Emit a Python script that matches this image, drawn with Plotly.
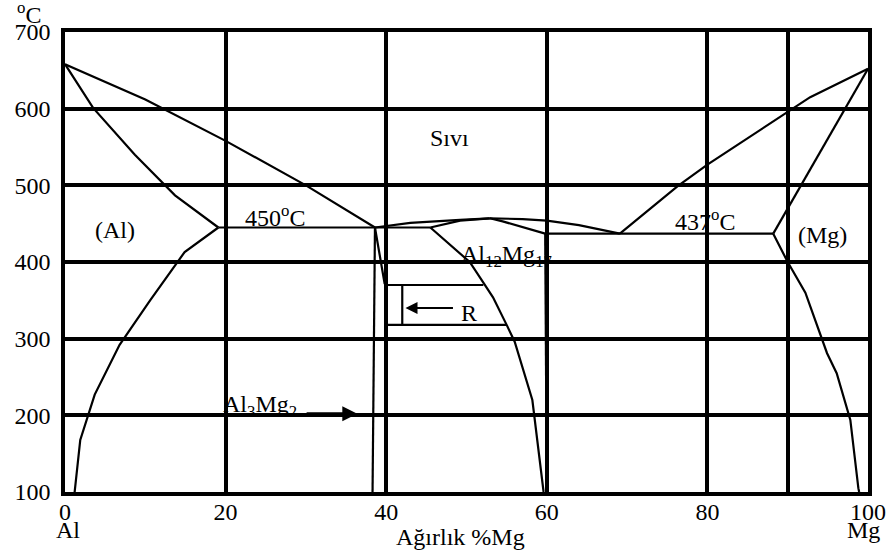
import plotly.graph_objects as go

# ---- data (wt% Mg, temperature °C) ----
liq_al_x = [0, 10, 20, 30, 38.6]
liq_al_y = [658, 612, 558, 500, 445]
sol_al_x = [0, 3.5, 8.7, 13.7, 19.1]
sol_al_y = [658, 601, 540, 487, 445]
solv_al_x = [19.1, 14.9, 10.6, 6.8, 3.7, 1.9, 1.2]
solv_al_y = [445, 413, 350, 292, 227, 168, 100]
eut1_x = [19.1, 45.5]
eut1_y = [445, 445]
al3mg2_left_x = [38.6, 38.3]
al3mg2_left_y = [445, 100]
al3mg2_right_x = [38.6, 39.8, 40, 40]
al3mg2_right_y = [445, 372, 370, 100]
liq_mid_x = [38.6, 39.9, 43, 49.2, 52.9]
liq_mid_y = [445, 447, 451, 455, 457]
sol_mid_x = [45.5, 49.2, 52.9]
sol_mid_y = [445, 454, 457]
liq_right_mid_x = [52.9, 57, 60, 64, 69.1]
liq_right_mid_y = [457, 456, 454, 448, 437]
sol_right_mid_x = [52.9, 54.5, 59.8]
sol_right_mid_y = [457, 453, 437]
eut2_x = [59.8, 88.2]
eut2_y = [437, 437]
al12_left_x = [45.5, 50.4, 52.1, 53.3, 55.0, 56.0, 58.2, 59.5, 59.6]
al12_left_y = [445, 400, 373, 354, 318, 296, 220, 110, 100]
al12_right_x = [59.8, 60]
al12_right_y = [437, 100]
r_top_x = [40, 52.1]
r_top_y = [370, 370]
r_bot_x = [40, 55.0]
r_bot_y = [318, 318]
r_vert_x = [42, 42]
r_vert_y = [370, 318]
liq_mg_x = [69.1, 76.3, 80, 92.8, 100]
liq_mg_y = [437, 499, 527, 615, 652]
sol_mg_x = [88.2, 100]
sol_mg_y = [437, 652]
solv_mg_x = [88.2, 90, 92.2, 94.9, 96.1, 97.8, 98.8, 98.9]
solv_mg_y = [437, 400, 360, 281, 255, 194, 105, 100]

x_ticks = [0, 20, 40, 60, 80, 100]
x_ticktext = ["0", "20", "40", "60", "80", "100"]
y_ticks = [100, 200, 300, 400, 500, 600, 700]

segments = [
    (liq_al_x, liq_al_y), (sol_al_x, sol_al_y), (solv_al_x, solv_al_y),
    (eut1_x, eut1_y), (al3mg2_left_x, al3mg2_left_y), (al3mg2_right_x, al3mg2_right_y),
    (liq_mid_x, liq_mid_y), (sol_mid_x, sol_mid_y),
    (liq_right_mid_x, liq_right_mid_y), (sol_right_mid_x, sol_right_mid_y),
    (eut2_x, eut2_y), (al12_left_x, al12_left_y), (al12_right_x, al12_right_y),
    (r_top_x, r_top_y), (r_bot_x, r_bot_y), (r_vert_x, r_vert_y),
    (liq_mg_x, liq_mg_y), (sol_mg_x, sol_mg_y), (solv_mg_x, solv_mg_y),
]

FONT = "Liberation Serif, Times New Roman, Times, serif"
fig = go.Figure()
for xs, ys in segments:
    fig.add_trace(go.Scatter(x=xs, y=ys, mode="lines",
                             line=dict(color="black", width=2.2),
                             showlegend=False, hoverinfo="skip"))

txt = dict(font=dict(family=FONT, size=24, color="black"), showarrow=False,
           xanchor="center", yanchor="middle")
fig.add_annotation(x=47.9, y=562, text="Sıvı", **txt)
fig.add_annotation(x=6.2, y=442, text="(Al)", **txt)
fig.add_annotation(x=26.2, y=460, text="450<sup>o</sup>C", **txt)
fig.add_annotation(x=79.7, y=455, text="437<sup>o</sup>C", **txt)
fig.add_annotation(x=94.3, y=435, text="(Mg)", **txt)
fig.add_annotation(x=55.0, y=408, text="Al<sub>12</sub>Mg<sub>17</sub>", **txt)
fig.add_annotation(x=24.3, y=212, text="Al<sub>3</sub>Mg<sub>2</sub>", **txt)
fig.add_annotation(x=50.3, y=334, text="R", **txt)
# arrows
fig.add_annotation(x=42.4, y=340, ax=48.5, ay=340, axref="x", ayref="y",
                   showarrow=True, arrowhead=2, arrowsize=1.2, arrowwidth=2,
                   arrowcolor="black", text="")
fig.add_annotation(x=36.4, y=202, ax=29.9, ay=202, axref="x", ayref="y",
                   showarrow=True, arrowhead=2, arrowsize=1, arrowwidth=3,
                   arrowcolor="black", text="")
# axis labels
fig.add_annotation(xref="paper", yref="paper", x=-0.045, y=1.041,
                   text="<sup>o</sup>C", **txt)
fig.add_annotation(xref="x", yref="paper", x=49.3, y=-0.098,
                   text="Ağırlık %Mg", **txt)
fig.add_annotation(xref="x", yref="paper", x=0.4, y=-0.083,
                   text="Al", **txt)
fig.add_annotation(xref="x", yref="paper", x=99.5, y=-0.083,
                   text="Mg", **txt)

fig.update_xaxes(range=[0, 100], tickvals=x_ticks, ticktext=x_ticktext,
                 showgrid=True, gridcolor="black", gridwidth=3.5,
                 showline=True, linecolor="black", linewidth=3.5, mirror=True,
                 zeroline=False, ticks="", automargin=False,
                 ticklabelstandoff=-5,
                 tickfont=dict(family=FONT, size=24, color="black"),
                 minor=dict(tickvals=[90], showgrid=True, gridcolor="black",
                            gridwidth=3.5, ticks=""))
fig.update_yaxes(range=[100, 700], tickvals=y_ticks,
                 showgrid=True, gridcolor="black", gridwidth=3.5,
                 showline=True, linecolor="black", linewidth=3.5, mirror=True,
                 zeroline=False, ticks="outside", ticklen=6, automargin=False,
                 tickcolor="rgba(0,0,0,0)",
                 tickfont=dict(family=FONT, size=24, color="black"))
fig.update_layout(width=890, height=554,
                  margin=dict(l=65, r=22, t=32, b=62),
                  plot_bgcolor="white", paper_bgcolor="white")
fig.write_html("out.html", config={"displayModeBar": False},
               post_script="document.body.style.margin='0';")
